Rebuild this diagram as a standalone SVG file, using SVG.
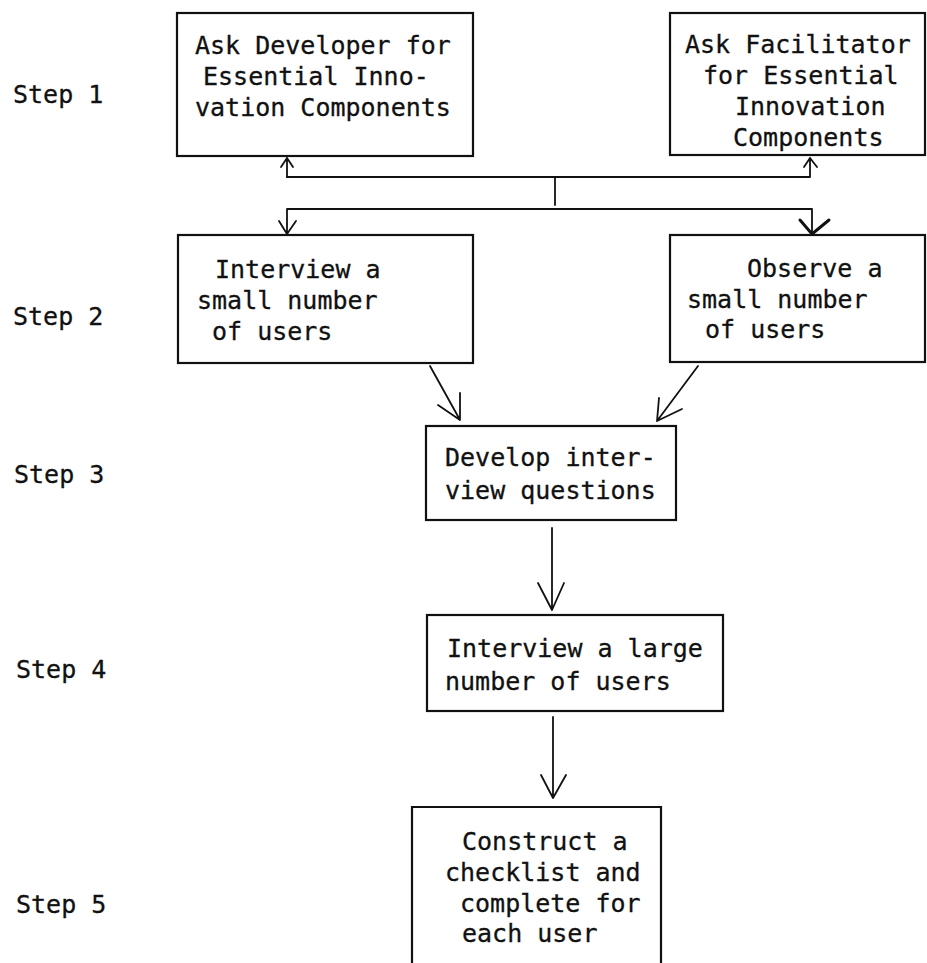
<svg xmlns="http://www.w3.org/2000/svg" width="927" height="963" viewBox="0 0 927 963">
<defs>
<style>
.box{fill:none;stroke:#111;stroke-width:2.2}
.t{font-family:"DejaVu Sans Mono","Liberation Mono",monospace;font-size:25px;fill:#111;stroke:#111;stroke-width:0.3}
.c{fill:none;stroke:#111;stroke-width:1.8;stroke-linecap:round;stroke-linejoin:round}
</style>
</defs>
<rect width="927" height="963" fill="#fff"/>
<g id="labels">
<text class="t" x="13" y="103">Step 1</text>
<text class="t" x="13" y="325">Step 2</text>
<text class="t" x="14" y="483">Step 3</text>
<text class="t" x="16" y="678">Step 4</text>
<text class="t" x="16" y="913">Step 5</text>
</g>
<g id="n1">
<rect class="box" x="177" y="13" width="296" height="143"/>
<text class="t" x="195" y="54">Ask Developer for</text>
<text class="t" x="203" y="85">Essential Inno-</text>
<text class="t" x="195" y="116">vation Components</text>
</g>
<g id="n2">
<rect class="box" x="670" y="13" width="255" height="142"/>
<text class="t" x="685" y="53">Ask Facilitator</text>
<text class="t" x="703" y="84">for Essential</text>
<text class="t" x="735" y="115">Innovation</text>
<text class="t" x="733" y="146">Components</text>
</g>
<g id="n3">
<rect class="box" x="178" y="235" width="295" height="128"/>
<text class="t" x="215" y="278">Interview a</text>
<text class="t" x="197" y="309">small number</text>
<text class="t" x="212" y="340">of users</text>
</g>
<g id="n4">
<rect class="box" x="670" y="235" width="255" height="127"/>
<text class="t" x="747" y="277">Observe a</text>
<text class="t" x="687" y="308">small number</text>
<text class="t" x="705" y="338">of users</text>
</g>
<g id="n5">
<rect class="box" x="426" y="426" width="250" height="94"/>
<text class="t" x="445" y="466">Develop inter-</text>
<text class="t" x="445" y="499">view questions</text>
</g>
<g id="n6">
<rect class="box" x="427" y="615" width="296" height="96"/>
<text class="t" x="447" y="657">Interview a large</text>
<text class="t" x="445" y="690">number of users</text>
</g>
<g id="n7">
<path class="box" d="M412 975 V807 H661 V975"/>
<text class="t" x="462" y="850">Construct a</text>
<text class="t" x="445" y="881">checklist and</text>
<text class="t" x="460" y="912">complete for</text>
<text class="t" x="462" y="942">each user</text>
</g>
<g id="connectors">
<path class="c" d="M287 177 V158 M281 167 L287 158 L293 167"/>
<path class="c" d="M287 177 H810 V158 M804 167 L810 158 L817 167"/>
<path class="c" d="M555 177 V205"/>
<path class="c" d="M287 209 H812 V234 M287 209 V234 M279 221 L287 234 L296 221"/>
<path class="c" d="M800 220 L812 234 L829 220" style="stroke-width:3"/>
<path class="c" d="M430 366 L460 420 M438 405 L460 420 L460 393"/>
<path class="c" d="M698 366 L657 421 M682 409 L657 421 L659 398"/>
<path class="c" d="M552 528 V610 M538 583 L552 610 L564 583"/>
<path class="c" d="M553 717 V798 M541 775 L553 798 L566 775"/>
</g>
</svg>
